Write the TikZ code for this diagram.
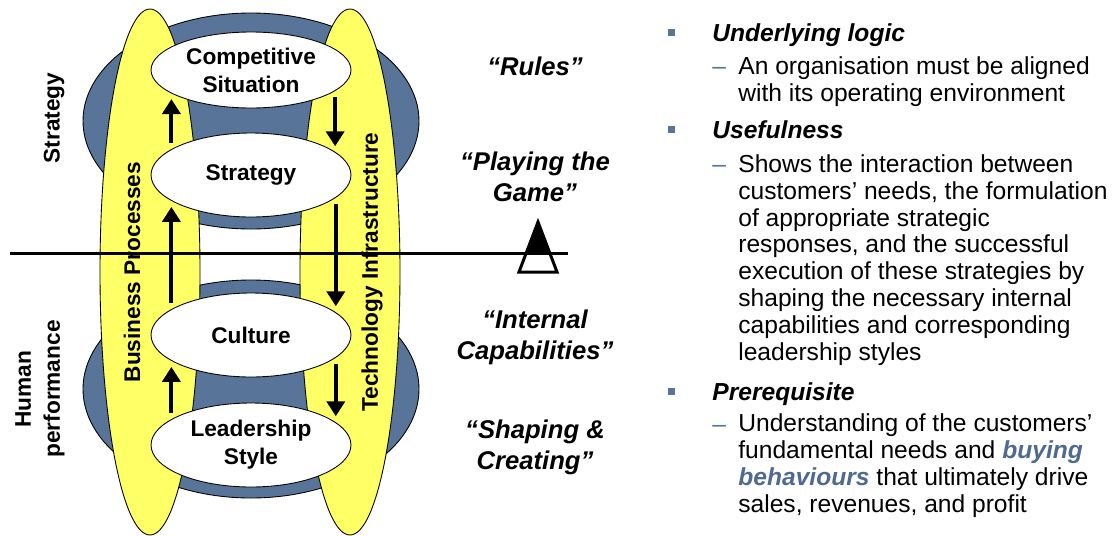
\documentclass[tikz,border=0pt]{standalone}
\usepackage{fontspec}
\setmainfont{Liberation Sans}
\usetikzlibrary{arrows.meta,shapes.geometric}
\definecolor{slate}{RGB}{88,116,153}
\definecolor{keyblue}{RGB}{79,106,143}
\definecolor{pale}{RGB}{255,255,102}
\begin{document}
\begin{tikzpicture}[x=0.02cm,y=-0.02cm,
ring/.style={draw=black,fill=slate,line width=0.5pt},
pillar/.style={draw=black,fill=pale,line width=0.5pt},
stage/.style={ellipse,draw=black,fill=white,line width=0.5pt,inner sep=0,minimum width=4cm,minimum height=1.68cm,align=center,font=\fontsize{12.9}{15.9}\selectfont\bfseries},
side/.style={rotate=90,align=center,font=\fontsize{12.9}{16.5}\selectfont\bfseries},
motto/.style={align=center,font=\fontsize{14.6}{17.6}\selectfont\bfseries\itshape},
flow/.style={-{Triangle[length=0.3cm,width=0.36cm]},line width=0.08cm,shorten <=0.12cm,shorten >=0.12cm},
bullet/.style={fill=slate,minimum size=0.14cm,inner sep=0},
head/.style={anchor=base west,inner sep=0,font=\fontsize{14}{15.25}\selectfont\bfseries\itshape},
sub/.style={anchor=base west,inner sep=0,text=slate,font=\fontsize{14}{15.25}\selectfont},
body/.style={anchor=base west,inner sep=0,align=left,font=\fontsize{14}{15.25}\selectfont},
]
\useasboundingbox(0,0)rectangle(1117,535);
%rings
\draw[ring](251,121)ellipse[x radius=168,y radius=108];
\draw[ring](251,389)ellipse[x radius=168,y radius=109];
%pillars
\draw[pillar](150,272)ellipse[x radius=50,y radius=263];
\draw[pillar](350,272)ellipse[x radius=50,y radius=263];
\node[side](process)at(132,272){Business Processes};
\node[side](techinfra)at(372,272){Technology Infrastructure};
%divide
\coordinate(west)at(10,253);
\coordinate(east)at(568,253);
\draw[line width=0.06cm,fill=white](538,222)--(519,272)--(557,272)--cycle;
\fill(538,222)--(526,253)--(550,253)--cycle;
\draw[line width=0.06cm](west)--(east);
%stages
\node[stage,minimum height=1.52cm](comp)at(251,70){Competitive\\Situation};
\node[stage](strat)at(251,175){Strategy};
\node[stage](cult)at(251,335){Culture};
\node[stage](lead)at(251,445){Leadership\\Style};
%up the left
\draw[flow](strat.162)--(strat.162|-comp.196);
\draw[flow](cult.162)--(cult.162|-strat.198);
\draw[flow](lead.162)--(lead.162|-cult.198);
%down the right
\draw[flow](comp.346)--(comp.346|-strat.15);
\draw[flow](strat.345)--(strat.345|-cult.15);
\draw[flow](cult.345)--(cult.345|-lead.15);
%levels
\node[side](strategy)at(54,118){Strategy};
\node[side](human)at(40,389){Human\\performance};
%mottos
\node[motto](rules)at(535,66){“Rules”};
\node[motto](game)at(535,177){“Playing the\\Game”};
\node[motto](capab)at(535,337){“Internal\\Capabilities”};
\node[motto](shaping)at(535,447){“Shaping \&\\Creating”};
%underlying logic (body nodes sit on their last line)
\node[bullet](b1)at(671,32){};
\node[head](logic)at(712,41){Underlying logic};
\node[sub](d1)at(712,74){–};
\node[body](logictxt)at(738,101){An organisation must be aligned\\with its operating environment};
%usefulness
\node[bullet](b2)at(671,129){};
\node[head](use)at(712,138){Usefulness};
\node[sub](d2)at(712,172){–};
\node[body](usetxt)at(738,360){Shows the interaction between\\customers’ needs, the formulation\\of appropriate strategic\\responses, and the successful\\execution of these strategies by\\shaping the necessary internal\\capabilities and corresponding\\leadership styles};
%prerequisite
\node[bullet](b3)at(671,391){};
\node[head](prereq)at(712,400){Prerequisite};
\node[sub](d3)at(712,432){–};
\node[body](prereqtxt)at(738,512){Understanding of the customers’\\fundamental needs and {\color{keyblue}\bfseries\itshape buying}\\{\color{keyblue}\bfseries\itshape behaviours} that ultimately drive\\sales, revenues, and profit};
\end{tikzpicture}
\end{document}
